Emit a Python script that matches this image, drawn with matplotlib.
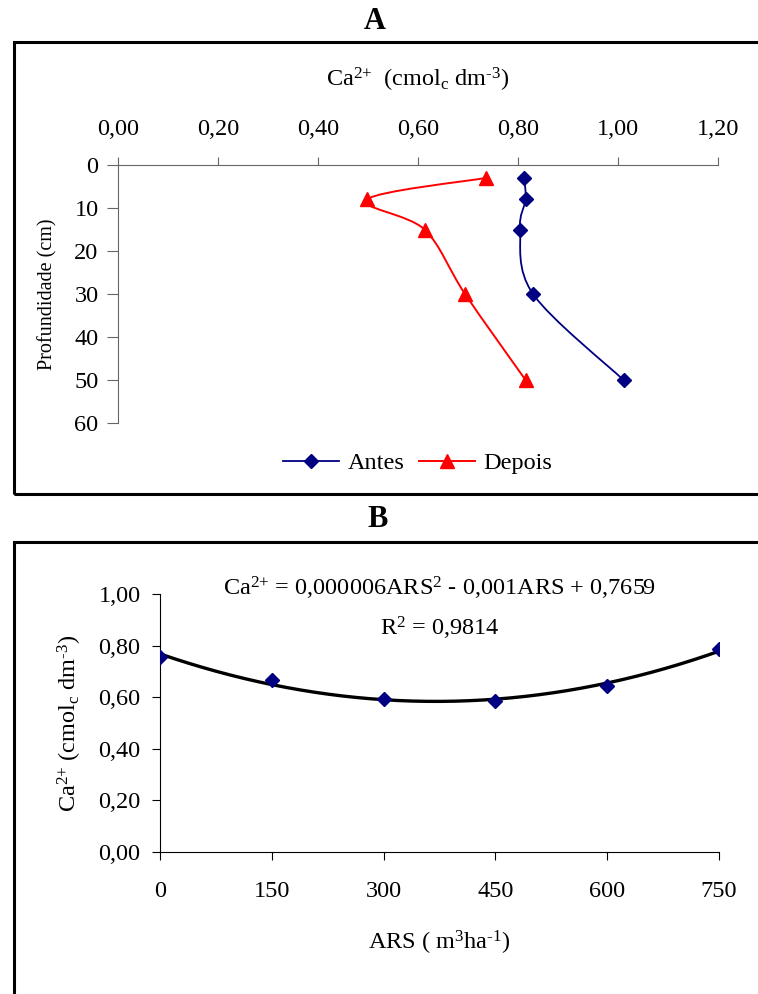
import numpy as np
import matplotlib.pyplot as plt
from matplotlib.path import Path
from matplotlib.patches import PathPatch, Rectangle
from matplotlib.lines import Line2D
from matplotlib.ticker import FuncFormatter

plt.rcParams['font.family'] = ['Liberation Serif', 'DejaVu Serif']
plt.rcParams['mathtext.fontset'] = 'custom'
plt.rcParams['mathtext.rm'] = 'Liberation Serif'
plt.rcParams['mathtext.it'] = 'Liberation Serif:italic'

# panel A: Ca2+ by depth, before / after
depth = [3, 8, 15, 30, 50]
antes = [0.812, 0.815, 0.804, 0.830, 1.011]
depois = [0.736, 0.498, 0.613, 0.694, 0.815]

# panel B: Ca2+ vs ARS dose
ars = [0, 150, 300, 450, 600, 750]
ca_b = [0.756, 0.668, 0.592, 0.585, 0.643, 0.787]

FS = 17.5


def smooth_path(x, y):
    # excel-like smoothed line (bezier through the points)
    pts = np.column_stack([x, y]).astype(float)
    n = len(pts)
    verts = [pts[0]]
    codes = [Path.MOVETO]
    for i in range(n - 1):
        p0 = pts[i - 1] if i > 0 else pts[i]
        p1 = pts[i]
        p2 = pts[i + 1]
        p3 = pts[i + 2] if i + 2 < n else p2
        verts += [p1 + (p2 - p0) / 6, p2 - (p3 - p1) / 6, p2]
        codes += [Path.CURVE4] * 3
    return Path(verts, codes)


def comma(fmt):
    return FuncFormatter(lambda v, p: format(v, fmt).replace('.', ','))


ca_unit = r'Ca$^{\text{2+}}$  (cmol$_{\text{c}}$ dm$^{\text{-3}}$)'

fig = plt.figure(figsize=(7.58, 9.94), dpi=100)

# outer frames
fig.patches.append(Rectangle((0.0185, 0.503), 1.0, 0.4547, transform=fig.transFigure,
                             fill=False, lw=2.2, ec='black'))
fig.patches.append(Rectangle((0.0185, -0.05), 1.0, 0.5047, transform=fig.transFigure,
                             fill=False, lw=2.2, ec='black'))
fig.text(0.495, 0.978, 'A', ha='center', va='center', fontsize=22, fontweight='bold')
fig.text(0.498, 0.477, 'B', ha='center', va='center', fontsize=22, fontweight='bold')

# ---- A ----
gray = '#666666'
ax = fig.add_axes([0.1557, 0.5744, 0.7916, 0.2596])
ax.add_patch(PathPatch(smooth_path(antes, depth), fill=False, ec='#000080', lw=1.3))
ax.add_patch(PathPatch(smooth_path(depois, depth), fill=False, ec='#FF0000', lw=1.4))
ax.plot(antes, depth, ls='none', marker='D', color='#000080', ms=7, zorder=3)
ax.plot(depois, depth, ls='none', marker='^', color='#FF0000', ms=9.5, zorder=3)
ax.set_xlim(0, 1.2)
ax.set_ylim(60, 0)
ax.set_xticks(np.arange(0, 1.21, 0.2))
ax.set_yticks(range(0, 61, 10))
ax.xaxis.set_major_formatter(comma('.2f'))
ax.xaxis.tick_top()
ax.spines['right'].set_visible(False)
ax.spines['bottom'].set_visible(False)
for s in ['left', 'top']:
    ax.spines[s].set_color(gray)
ax.tick_params(axis='x', direction='out', length=6, color=gray, pad=12, labelsize=FS)
ax.tick_params(axis='y', direction='out', length=8, color=gray, pad=6, labelsize=FS)
ax.text(0.5, 1.33, ca_unit, transform=ax.transAxes,
        ha='center', va='center', fontsize=FS)
ax.text(-0.117, 0.5, 'Profundidade (cm)', transform=ax.transAxes, rotation=90,
        ha='center', va='center', fontsize=FS - 3)
handles = [Line2D([], [], color='#000080', marker='D', ms=7, lw=1.3),
           Line2D([], [], color='#FF0000', marker='^', ms=9.5, lw=1.4)]
ax.legend(handles, ['Antes', 'Depois'], loc='center', bbox_to_anchor=(0.5, -0.155),
          ncol=2, frameon=False, fontsize=FS, handlelength=2.3, handletextpad=0.35,
          columnspacing=0.6)

# ---- B ----
bx = fig.add_axes([0.2111, 0.1429, 0.7375, 0.2596])
coef = np.polyfit(ars, ca_b, 2)
xs = np.linspace(0, 750, 200)
bx.plot(xs, np.polyval(coef, xs), color='black', lw=2.4)
bx.plot(ars, ca_b, ls='none', marker='D', color='#000080', ms=7, zorder=3)
bx.set_xlim(0, 750)
bx.set_ylim(0, 1.0)
bx.set_xticks(ars)
bx.set_yticks(np.arange(0, 1.01, 0.2))
bx.yaxis.set_major_formatter(comma('.2f'))
bx.spines['right'].set_visible(False)
bx.spines['top'].set_visible(False)
bx.tick_params(axis='x', direction='out', length=6, pad=15, labelsize=FS)
bx.tick_params(axis='y', direction='out', length=6, pad=8, labelsize=FS)
bx.text(0.5, 1.023, r'Ca$^{\text{2+}}$ = 0,000006ARS$^{2}$ - 0,001ARS + 0,7659',
        transform=bx.transAxes, ha='center', va='center', fontsize=FS)
bx.text(0.5, 0.868, r'R$^{2}$ = 0,9814', transform=bx.transAxes,
        ha='center', va='center', fontsize=FS)
bx.text(-0.161, 0.5, r'Ca$^{\text{2+}}$ (cmol$_{\text{c}}$ dm$^{\text{-3}}$)',
        transform=bx.transAxes, rotation=90, ha='center', va='center', fontsize=FS)
bx.text(0.5, -0.353, r'ARS ( m$^{3}$ha$^{\text{-1}}$)', transform=bx.transAxes,
        ha='center', va='center', fontsize=FS)

fig.savefig('out.png', dpi=100)
